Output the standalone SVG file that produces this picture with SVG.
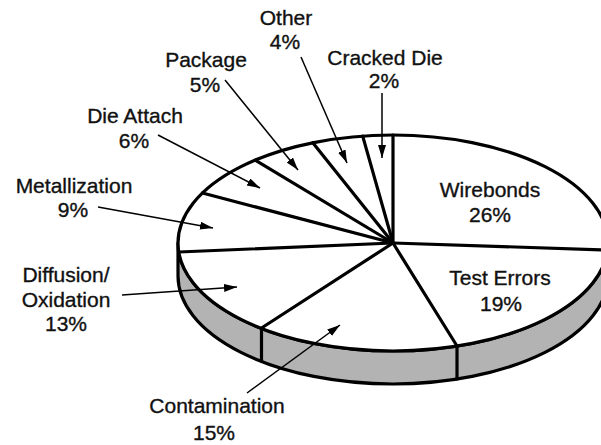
<svg xmlns="http://www.w3.org/2000/svg" width="601" height="445" viewBox="0 0 601 445">
<style>
  .edge { stroke: #000; stroke-width: 3.2; fill: none; stroke-linecap: round; stroke-linejoin: round; }
  .side { fill: #b3b3b3; stroke: #000; stroke-width: 3.2; stroke-linejoin: round; }
  .top { fill: #fff; stroke: #000; stroke-width: 3.2; }
  .lead { stroke: #000; stroke-width: 1.5; fill: none; marker-end: url(#ah); }
  text { font-family: "Liberation Sans", Arial, Helvetica, sans-serif; font-size: 21px; fill: #111; stroke: #111; stroke-width: 0.35; text-anchor: middle; }
</style>
<defs>
  <marker id="ah" markerUnits="userSpaceOnUse" markerWidth="14" markerHeight="10" refX="13" refY="4" orient="auto">
    <path d="M0,0 L13,4 L0,8 Z" fill="#000"/>
  </marker>
</defs>
<rect width="601" height="445" fill="#fff"/>

<g id="pie">
  <path class="side" d="M178,243 A215 108 0 0 0 608,243 L608,276 A215 108 0 0 1 178,276 Z"/>
  <line class="edge" x1="457" y1="346" x2="457" y2="379"/>
  <line class="edge" x1="261.5" y1="328" x2="261.5" y2="361"/>
  <ellipse class="top" cx="393" cy="243" rx="215" ry="108"/>
</g>

<g id="slices">
  <g id="wirebonds"><text x="490" y="197">Wirebonds</text><text x="490" y="222">26%</text></g>
  <g id="test-errors"><text x="500" y="285">Test Errors</text><text x="501" y="311">19%</text></g>
  <g id="contamination"><text x="217" y="413">Contamination</text><text x="214" y="440">15%</text></g>
  <g id="diffusion"><text x="66" y="282">Diffusion/</text><text x="66" y="307">Oxidation</text><text x="66" y="331">13%</text></g>
  <g id="metallization"><text x="74" y="193">Metallization</text><text x="73" y="217">9%</text></g>
  <g id="die-attach"><text x="135" y="123">Die Attach</text><text x="134" y="148">6%</text></g>
  <g id="package"><text x="206" y="67">Package</text><text x="205" y="92">5%</text></g>
  <g id="other"><text x="286" y="25">Other</text><text x="285" y="49">4%</text></g>
  <g id="cracked-die"><text x="385" y="65">Cracked Die</text><text x="384" y="88">2%</text></g>
</g>

<g id="connectors">
  <g id="dividers">
    <line class="edge" x1="393" y1="243" x2="393" y2="135"/>
    <line class="edge" x1="393" y1="243" x2="607.5" y2="250"/>
    <line class="edge" x1="393" y1="243" x2="457" y2="346"/>
    <line class="edge" x1="393" y1="243" x2="261.5" y2="328"/>
    <line class="edge" x1="393" y1="243" x2="178.8" y2="252"/>
    <line class="edge" x1="393" y1="243" x2="202.5" y2="193"/>
    <line class="edge" x1="393" y1="243" x2="255.2" y2="160.2"/>
    <line class="edge" x1="393" y1="243" x2="312.8" y2="142.8"/>
    <line class="edge" x1="393" y1="243" x2="362.7" y2="136.1"/>
  </g>
  <g id="leaders">
    <line class="lead" x1="382" y1="93" x2="382" y2="158"/>
    <line class="lead" x1="301" y1="57" x2="347" y2="163"/>
    <line class="lead" x1="225" y1="80" x2="298" y2="170"/>
    <line class="lead" x1="158" y1="135" x2="260" y2="188"/>
    <line class="lead" x1="98" y1="207" x2="213" y2="228"/>
    <line class="lead" x1="122" y1="295" x2="237" y2="287"/>
    <line class="lead" x1="247" y1="393" x2="340" y2="325"/>
  </g>
</g>
</svg>
